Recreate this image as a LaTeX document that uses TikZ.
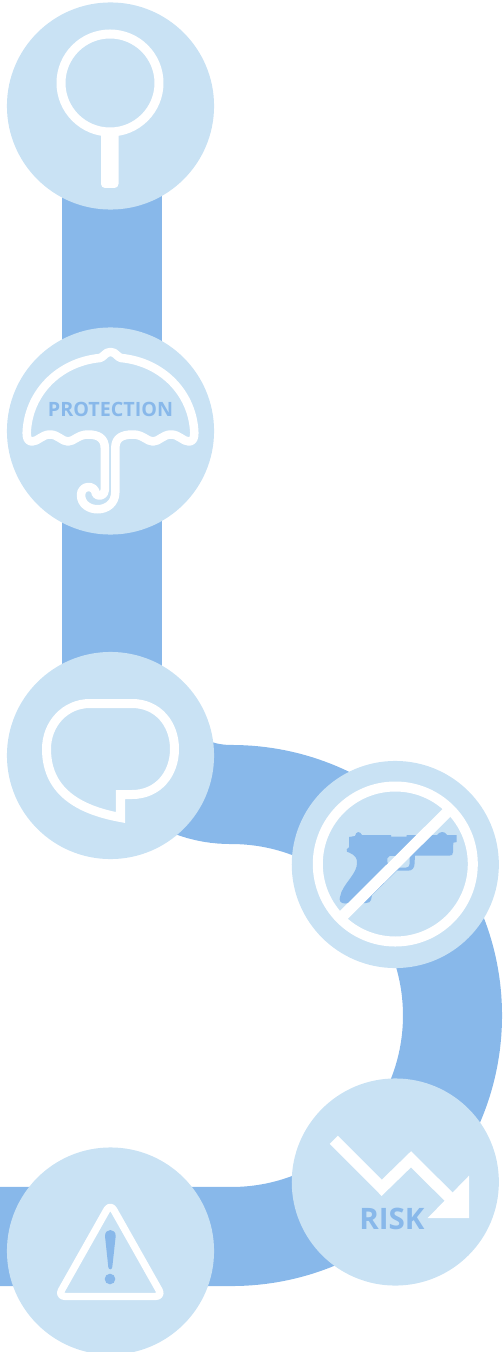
\documentclass[tikz,border=0pt]{standalone}
\usepackage{fontspec}
\setmainfont{Open Sans}
\pgfdeclarelayer{edgelayer}
\pgfdeclarelayer{nodelayer}
\pgfsetlayers{edgelayer,nodelayer,main}
\definecolor{bandblue}{HTML}{88B8EA}
\definecolor{discblue}{HTML}{C9E2F4}
\tikzstyle{band}=[draw=bandblue, line width=0.99cm]
\tikzstyle{disc}=[circle, fill=discblue, inner sep=0pt, minimum size=2.07cm]
\tikzstyle{icon}=[draw=white, line width=0.085cm, line join=round, line cap=round]
\tikzstyle{label}=[text=bandblue, inner sep=0pt, anchor=base, font=\bfseries]

\begin{document}
\begin{tikzpicture}[x=0.01cm, y=-0.01cm]
	\useasboundingbox (0,0) rectangle (502,1352);
	\begin{pgfonlayer}{nodelayer}
		\node [style=disc] (search) at (110.5,106) {};
		\node [style=disc] (protection) at (110.5,431) {};
		\node [style=disc] (speech) at (110.5,755.5) {};
		\node [style=disc] (nogun) at (395.3,864.5) {};
		\node [style=disc] (risk) at (395.3,1182) {};
		\node [style=disc] (warning) at (110.5,1251) {};
	\end{pgfonlayer}
	\begin{pgfonlayer}{edgelayer}
		\coordinate (bendtop) at (231.5,794.5);
		\coordinate (leftend) at (0,1236.5);
		\draw [style=band] ([xshift=0.015cm]search.center) -- ([xshift=0.015cm]protection.center);
		\draw [style=band] ([xshift=0.015cm]protection.center) -- ([xshift=0.015cm]speech.center);
		\draw [style=band] ([xshift=0.3cm]speech.center) .. controls (178,787) and (205,794.5) .. (bendtop) arc [start angle=-90, delta angle=180, radius=221] -- (leftend);
	\end{pgfonlayer}
	% search
	\draw [style=icon, line width=0.09cm] (110,83) circle [radius=49];
	\fill [white, rounded corners=0.04cm] (101,128) rectangle (118.5,188);
	% umbrella
	\draw [style=icon] (32,441.5) .. controls (28,441.5) and (26.7,438) .. (26.7,433) .. controls (28,394) and (58,362) .. (100,358) .. controls (104,357) and (105,352) .. (110.5,352) .. controls (116,352) and (117,357) .. (121,358) .. controls (163,362) and (193,394) .. (194.3,433) .. controls (194.3,438) and (193,441.5) .. (189,441.5)
		.. controls (183,441.5) and (179,434.5) .. (171,434.5) .. controls (163,434.5) and (159,441.5) .. (153,441.5) .. controls (147,441.5) and (143,434.5) .. (133,434.5) .. controls (122,434.5) and (115.3,438) .. (115.3,448) -- (115.3,492)
		.. controls (115.3,515) and (81,514) .. (81,495) .. controls (81,485) and (95,484) .. (96,494) .. controls (98,497) and (104.8,496) .. (104.8,490) -- (104.8,448)
		.. controls (104.8,438) and (98,434.5) .. (88,434.5) .. controls (78,434.5) and (74,441.5) .. (68,441.5) .. controls (62,441.5) and (58,434.5) .. (50,434.5) .. controls (42,434.5) and (38,441.5) .. (32,441.5) -- cycle;
	\node [style=label, font=\bfseries\fontsize{5.6pt}{6pt}\selectfont] (protectionlabel) at (110.5,416.5) {PROTECTION};
	% speech
	\draw [style=icon, line width=0.09cm, line join=miter] (90,703.5) -- (132,703.5) .. controls (158,703.5) and (174.5,724) .. (174.5,749) .. controls (174.5,774) and (158,794.5) .. (132,794.5) -- (120.5,794.5) -- (120.5,817.5) .. controls (85,811) and (46.5,795) .. (46.5,749) .. controls (46.5,724) and (65,703.5) .. (90,703.5) -- cycle;
	% pistol
	\fill [bandblue] (349,837) -- (355,836) .. controls (356,831) and (360,831) .. (362,835) -- (391,835) -- (391,836.7) -- (406.7,836.7) -- (406.7,835) -- (437,835) .. controls (440,831) and (445,831) .. (447,835) -- (456.7,835) -- (456.7,842) -- (453.3,842.7) -- (453,852) .. controls (453,855) and (452,855.7) .. (449,855.7) -- (415,855.7) -- (414.5,864) .. controls (414.5,868) and (412,870.7) .. (408,870.7) -- (397,870.7) -- (372,895) -- (371,900) .. controls (370,902) and (369,903) .. (366,903) -- (345,903.5) .. controls (340,903.5) and (339,900) .. (340,897) .. controls (342,884) and (358,874) .. (357,862) .. controls (357,855) and (350,853) .. (347,851.7) -- (346.7,849.3) -- (349,847.3) -- cycle;
	\fill [discblue] (390,856) -- (409.5,856) -- (409.5,864) .. controls (409.5,866) and (408,867.5) .. (406,867.5) -- (392,867.5) .. controls (387,865) and (385,858) .. (390,856) -- cycle;
	\draw [draw=white, line width=0.1cm] (395.3,864) circle [radius=77.5];
	\draw [draw=white, line width=0.11cm] (449,810.4) -- (341.4,917.3);
	% risk
	\draw [draw=white, line width=0.115cm, line join=miter] (333.8,1139.7) -- (381.7,1187.8) -- (411,1159.3) -- (452,1200);
	\fill [white] (469,1175.7) -- (469,1218) -- (427.7,1218) -- cycle;
	\node [style=label, font=\bfseries\fontsize{8.4pt}{9pt}\selectfont] (risklabel) at (392,1229.3) {RISK};
	% warning
	\draw [style=icon, line width=0.073cm, rounded corners=0.07cm] (110.3,1203.7) -- (58,1296.4) -- (162.6,1296.4) -- cycle;
	\fill [bandblue] (105,1236) .. controls (105,1228) and (115.7,1228) .. (115.7,1236) -- (112.3,1267) .. controls (112,1270) and (108.5,1270) .. (108.3,1267) -- cycle;
	\fill [bandblue] (110,1279) circle [radius=5.3];
\end{tikzpicture}
\end{document}
